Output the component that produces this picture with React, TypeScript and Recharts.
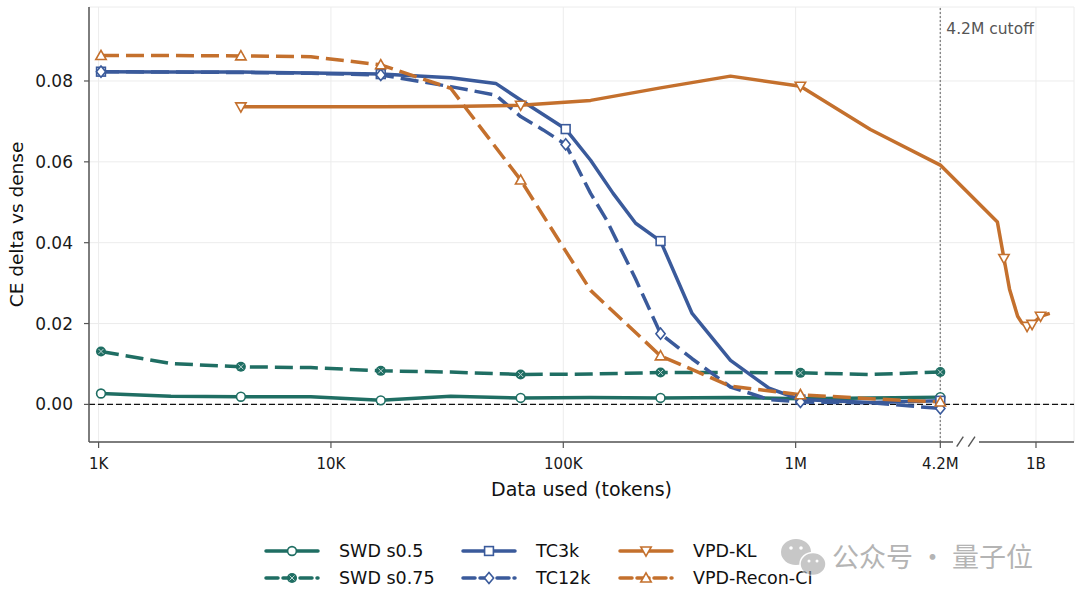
import { LineChart, Line, XAxis, YAxis, CartesianGrid, ReferenceLine } from "recharts";

const TEAL = "#1f6e63";
const BLUE = "#3a5a9b";
const ORANGE = "#c4702d";
const FONT = "'DejaVu Sans', sans-serif";

// token counts (x) and CE delta (y)
const swdTokens = [1024, 2048, 4096, 8192, 16384, 32768, 65536, 131072, 262144, 524288, 1048576, 2097152, 4194304];
const swdS05 = [0.0027, 0.002, 0.0019, 0.0019, 0.001, 0.002, 0.0016, 0.0017, 0.0016, 0.0017, 0.0014, 0.0016, 0.0018];
const swdS075 = [0.0131, 0.0101, 0.0093, 0.0091, 0.0083, 0.008, 0.0074, 0.0075, 0.0079, 0.0079, 0.0078, 0.0074, 0.008];
const swdMarks = [0, 2, 4, 6, 8, 10, 12];

const tc3kTokens = [1024, 2048, 4096, 8192, 16384, 32768, 51200, 65536, 102400, 131072, 163840, 204800, 262144, 358400, 524288, 768000, 1048576, 2097152, 4194304];
const tc3k = [0.0823, 0.0822, 0.0822, 0.082, 0.0817, 0.0808, 0.0794, 0.0753, 0.0681, 0.0604, 0.0522, 0.0448, 0.0404, 0.0225, 0.0109, 0.004, 0.0012, 0.0005, 0.0009];
const tc3kMarks = [0, 4, 8, 12, 16, 18];

const tc12kTokens = [1024, 2048, 4096, 8192, 16384, 32768, 51200, 65536, 81920, 102400, 131072, 153600, 204800, 262144, 358400, 524288, 768000, 1048576, 2097152, 4194304];
const tc12k = [0.0823, 0.0822, 0.0821, 0.0819, 0.0815, 0.0786, 0.0765, 0.0712, 0.0679, 0.0643, 0.0522, 0.0456, 0.031, 0.0175, 0.0113, 0.0043, 0.0012, 0.0006, 0.0004, -0.001];
const tc12kMarks = [0, 4, 9, 13, 17, 19];

const vpdKlTokens = [4096, 8192, 16384, 32768, 65536, 131072, 262144, 524288, 1048576, 2097152, 4194304, 110e6, 160e6, 220e6, 350e6, 450e6, 600e6, 800e6, 1.3e9, 2.2e9];
const vpdKl = [0.0736, 0.0736, 0.0736, 0.0737, 0.074, 0.0752, 0.0783, 0.0812, 0.0787, 0.068, 0.0592, 0.0451, 0.0361, 0.0285, 0.0218, 0.0201, 0.0193, 0.0198, 0.0218, 0.0225];
const vpdKlMarks = [0, 4, 8, 12, 16, 17, 18];

const vpdRecon = [0.0863, 0.0863, 0.0862, 0.086, 0.084, 0.0782, 0.0555, 0.0282, 0.012, 0.0045, 0.0024, 0.0014, 0.0006];

const tickTokens = [1e3, 1e4, 1e5, 1e6, 4194304, 1e9];
const tickLabels = ["1K", "10K", "100K", "1M", "4.2M", "1B"];
const yTicks = [0, 0.02, 0.04, 0.06, 0.08];

// log axis up to the 4.2M cutoff, compressed log after the break
const CUTOFF = 4194304;
const BREAK_SCALE = 0.1732;
const toPos = (t: number) => {
  const l = Math.log10(t);
  const c = Math.log10(CUTOFF);
  return l <= c ? l : c + (l - c) * BREAK_SCALE;
};
const tickPos = tickTokens.map(toPos);

const build = (tokens: number[], values: number[], marks: number[]) =>
  tokens.map((t, i) => ({ p: toPos(t), v: values[i], m: marks.includes(i) }));

type Shape = "circle" | "xfill" | "square" | "diamond" | "tridown" | "triup";

const MarkerShape = ({ shape, cx, cy, color }: { shape: Shape; cx: number; cy: number; color: string }) => {
  const sw = 1.6;
  if (shape === "circle") return <circle cx={cx} cy={cy} r={4.4} fill="#fff" stroke={color} strokeWidth={sw} />;
  if (shape === "square") return <rect x={cx - 4.4} y={cy - 4.4} width={8.8} height={8.8} fill="#fff" stroke={color} strokeWidth={sw} />;
  if (shape === "diamond")
    return <polygon points={`${cx},${cy - 5.6} ${cx + 4.6},${cy} ${cx},${cy + 5.6} ${cx - 4.6},${cy}`} fill="#fff" stroke={color} strokeWidth={sw} />;
  if (shape === "tridown")
    return <polygon points={`${cx - 5.2},${cy - 4} ${cx + 5.2},${cy - 4} ${cx},${cy + 5.2}`} fill="#fff" stroke={color} strokeWidth={sw} />;
  if (shape === "triup")
    return <polygon points={`${cx - 5.2},${cy + 4} ${cx + 5.2},${cy + 4} ${cx},${cy - 5.2}`} fill="#fff" stroke={color} strokeWidth={sw} />;
  return (
    <g>
      <circle cx={cx} cy={cy} r={5} fill={color} />
      <path d={`M${cx - 2.5},${cy - 2.5}L${cx + 2.5},${cy + 2.5}M${cx + 2.5},${cy - 2.5}L${cx - 2.5},${cy + 2.5}`} stroke="#fff" strokeWidth={1} opacity={0.7} />
    </g>
  );
};

const dotFor = (shape: Shape, color: string) => (props: any) => {
  const { cx, cy, index, payload } = props;
  if (!payload?.m || cx == null || cy == null) return <g key={`e${index}`} />;
  return (
    <g key={`m${index}`}>
      <MarkerShape shape={shape} cx={cx} cy={cy} color={color} />
    </g>
  );
};

const series = [
  { name: "SWD s0.5", data: build(swdTokens, swdS05, swdMarks), color: TEAL, dash: undefined, shape: "circle" as Shape },
  { name: "SWD s0.75", data: build(swdTokens, swdS075, swdMarks), color: TEAL, dash: "18 7", shape: "xfill" as Shape },
  { name: "TC3k", data: build(tc3kTokens, tc3k, tc3kMarks), color: BLUE, dash: undefined, shape: "square" as Shape },
  { name: "TC12k", data: build(tc12kTokens, tc12k, tc12kMarks), color: BLUE, dash: "18 7", shape: "diamond" as Shape },
  { name: "VPD-KL", data: build(vpdKlTokens, vpdKl, vpdKlMarks), color: ORANGE, dash: undefined, shape: "tridown" as Shape },
  { name: "VPD-Recon-CI", data: build(swdTokens, vpdRecon, swdMarks), color: ORANGE, dash: "18 7", shape: "triup" as Shape },
];

const legendCols = [266, 463, 620];
const legendRows = [551, 578];

export default function App() {
  return (
    <div style={{ position: "fixed", left: 0, top: 0, width: 1080, height: 602, background: "#fff", fontFamily: FONT }}>
      <LineChart width={1080} height={602} margin={{ top: 7, right: 6, bottom: 100, left: 9 }}>
        <CartesianGrid stroke="#ececec" strokeWidth={1} />
        <XAxis
          type="number"
          dataKey="p"
          domain={[2.9587, 7.198]}
          allowDataOverflow
          ticks={tickPos}
          interval={0}
          tickFormatter={(v: number) => {
            const i = tickPos.findIndex((t) => Math.abs(t - v) < 1e-6);
            return i >= 0 ? tickLabels[i] : "";
          }}
          height={60}
          tickSize={6}
          tickMargin={10}
          axisLine={{ stroke: "#555", strokeWidth: 1.5 }}
          tickLine={{ stroke: "#555", strokeWidth: 1.2 }}
          tick={{ fill: "#1a1a1a", fontSize: 15, fontFamily: FONT }}
          label={{ value: "Data used (tokens)", position: "insideBottom", offset: 6, fill: "#111", fontSize: 19, fontFamily: FONT }}
        />
        <YAxis
          type="number"
          domain={[-0.0093, 0.0983]}
          allowDataOverflow
          ticks={yTicks}
          interval={0}
          tickFormatter={(v: number) => v.toFixed(2)}
          width={80}
          tickSize={5}
          tickMargin={11}
          axisLine={{ stroke: "#555", strokeWidth: 1.5 }}
          tickLine={{ stroke: "#555", strokeWidth: 1.2 }}
          tick={{ fill: "#1a1a1a", fontSize: 17, fontFamily: FONT }}
          label={{ value: "CE delta vs dense", angle: -90, position: "insideLeft", offset: 7, fill: "#111", fontSize: 18.5, fontFamily: FONT, style: { textAnchor: "middle" } }}
        />
        <ReferenceLine y={0} stroke="#111" strokeWidth={1.3} strokeDasharray="6 3" />
        <ReferenceLine
          x={toPos(CUTOFF)}
          stroke="#888"
          strokeWidth={1.4}
          strokeDasharray="2 2"
          label={(props: any) => (
            <text x={props.viewBox.x + 6} y={34} fill="#555" fontSize={15.5} fontFamily={FONT}>
              4.2M cutoff
            </text>
          )}
        />
        {series.map((s) => (
          <Line
            key={s.name}
            data={s.data}
            dataKey="v"
            type="linear"
            stroke={s.color}
            strokeWidth={3.5}
            strokeDasharray={s.dash}
            strokeLinejoin="round"
            dot={dotFor(s.shape, s.color)}
            activeDot={false}
            isAnimationActive={false}
          />
        ))}
      </LineChart>

      {/* axis break marks */}
      <svg width={1080} height={602} style={{ position: "absolute", left: 0, top: 0, pointerEvents: "none" }}>
        <rect x={953} y={438} width={26} height={8} fill="#fff" />
        <line x1={956.7} y1={446.7} x2={963.3} y2={436.7} stroke="#555" strokeWidth={1.4} />
        <line x1={968.3} y1={446.7} x2={975} y2={436.7} stroke="#555" strokeWidth={1.4} />
        {/* legend */}
        {series.map((s, i) => {
          const x = legendCols[Math.floor(i / 2)];
          const y = legendRows[i % 2];
          return (
            <g key={s.name}>
              <line x1={x} y1={y} x2={x + 52} y2={y} stroke={s.color} strokeWidth={3.5} strokeDasharray={s.dash ? "12 5" : undefined} strokeLinecap="round" />
              <MarkerShape shape={s.shape} cx={x + 26} cy={y} color={s.color} />
              <text x={x + 73} y={y + 6} fill="#111" fontSize={17.5} fontFamily={FONT}>
                {s.name}
              </text>
            </g>
          );
        })}
        {/* watermark */}
        <g opacity={0.55}>
          <ellipse cx={796} cy={552} rx={15} ry={13} fill="#9a9a9a" />
          <ellipse cx={813} cy={564} rx={13} ry={11.5} fill="#9a9a9a" stroke="#fff" strokeWidth={1.5} />
          <circle cx={791} cy={548} r={1.8} fill="#fff" />
          <circle cx={801} cy={548} r={1.8} fill="#fff" />
          <circle cx={809} cy={561} r={1.5} fill="#fff" />
          <circle cx={817} cy={561} r={1.5} fill="#fff" />
          <text x={832} y={567} fill="#777" fontSize={27} fontFamily="'Noto Sans CJK SC', sans-serif">
            公众号 · 量子位
          </text>
        </g>
      </svg>
    </div>
  );
}
